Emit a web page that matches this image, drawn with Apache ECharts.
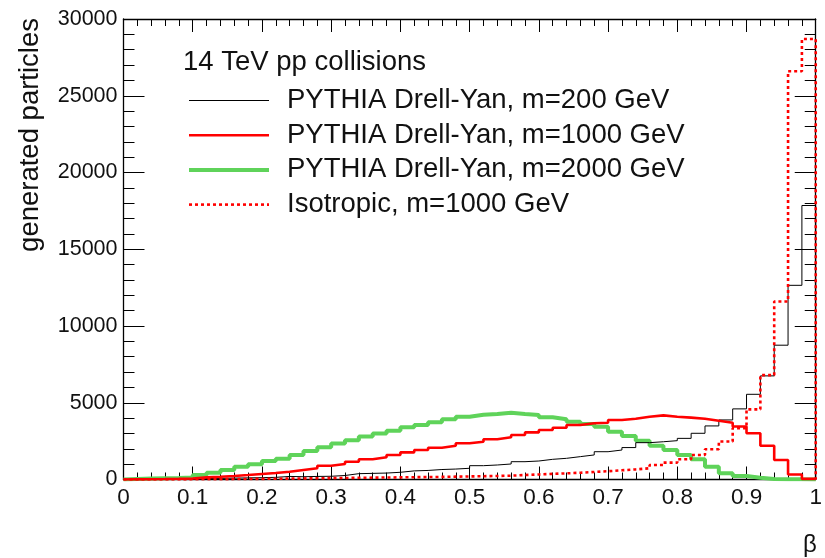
<!DOCTYPE html>
<html><head><meta charset="utf-8">
<script src="https://cdn.jsdelivr.net/npm/echarts@6/dist/echarts.min.js"></script>
<style>html,body{margin:0;padding:0;background:#fff}#c{width:825px;height:558px}</style>
</head><body><div id="c"></div>
<script>
// Histogram bins: lower edges (bin width 0.02), last upper edge = 1
const binLow = [0.00,0.02,0.04,0.06,0.08,0.10,0.12,0.14,0.16,0.18,
                0.20,0.22,0.24,0.26,0.28,0.30,0.32,0.34,0.36,0.38,
                0.40,0.42,0.44,0.46,0.48,0.50,0.52,0.54,0.56,0.58,
                0.60,0.62,0.64,0.66,0.68,0.70,0.72,0.74,0.76,0.78,
                0.80,0.82,0.84,0.86,0.88,0.90,0.92,0.94,0.96,0.98];
const binHighLast = 1.0;

const dy200 = [10,20,30,40,50,60,75,90,105,120,
               140,200,180,200,210,260,380,400,420,470,
               560,590,650,680,730,900,945,1010,1160,1205,
               1315,1380,1490,1600,1810,1920,2080,2400,2460,2530,
               2680,3010,3490,3880,4600,5550,6750,8750,12650,17850];
const dy1000 = [10,20,30,45,70,140,180,230,290,360,
                420,510,620,730,900,1010,1160,1320,1450,1600,
                1770,1920,2070,2200,2360,2460,2620,2750,2900,3070,
                3220,3370,3550,3660,3700,3880,3960,4090,4180,4090,
                4030,3960,3830,3700,3450,3010,2200,1270,330,40];
const dy2000 = [40,60,80,100,130,290,440,620,830,990,
                1200,1350,1600,1850,2100,2350,2550,2800,3000,3180,
                3400,3550,3730,3920,4090,4220,4270,4350,4270,4200,
                4050,3920,3770,3620,3440,3110,2830,2530,2200,1920,
                1600,1315,830,400,230,120,40,20,10,5];
const iso1000 = [0,2,5,8,12,18,22,28,35,40,
                 50,60,70,80,90,100,110,120,130,140,
                 150,160,170,185,200,215,230,250,290,330,
                 370,400,440,490,540,600,660,730,945,1100,
                 1320,1600,1970,2480,3350,4570,6800,11600,26600,28700];

const seriesNames = ['PYTHIA Drell-Yan, m=200 GeV','PYTHIA Drell-Yan, m=1000 GeV',
                     'PYTHIA Drell-Yan, m=2000 GeV','Isotropic, m=1000 GeV'];
const headerText = '14 TeV pp collisions';
const yTitle = 'generated particles';
const xTitle = 'β';

function histPoints(vals){
  const pts = [[binLow[0], 0]];
  for (let i = 0; i < vals.length; i++) pts.push([binLow[i], vals[i]]);
  pts.push([binHighLast, vals[vals.length-1]]);
  pts.push([binHighLast, 0]);
  return pts;
}

const FONT = 'Liberation Sans';
const BIG = 27.5;
const chart = echarts.init(document.getElementById('c'), null, {renderer:'canvas'});

function mkX(pos, labels){
  return {type:'value', min:0, max:1, interval:0.1, position:pos,
    axisLine:{show:true, onZero:false, lineStyle:{color:'#000', width:1.3}},
    axisTick:{show:true, inside:true, length:13, lineStyle:{color:'#000', width:1}},
    minorTick:{show:true, splitNumber:5, length:7, lineStyle:{color:'#000', width:1}},
    splitLine:{show:false}, minorSplitLine:{show:false},
    axisLabel:{show:labels, color:'#111', fontFamily:FONT, fontSize:22.5, margin:7,
      formatter:function(v){ return (v===0||v===1)? String(v) : v.toFixed(1); }}};
}
function mkY(pos, labels){
  return {type:'value', min:0, max:30000, interval:5000, position:pos,
    axisLine:{show:true, onZero:false, lineStyle:{color:'#000', width:1.3}},
    axisTick:{show:true, inside:true, length:21, lineStyle:{color:'#000', width:1}},
    minorTick:{show:true, splitNumber:5, length:11, lineStyle:{color:'#000', width:1}},
    splitLine:{show:false}, minorSplitLine:{show:false},
    axisLabel:{show:labels, color:'#111', fontFamily:FONT, fontSize:21.5, margin:6,
      formatter:function(v){ return String(v); }}};
}

const legendWidths = [1, 2.6, 4, 2.6];
const option = {
  animation:false,
  backgroundColor:'#fff',
  grid:{left:123.5, right:5, top:19, bottom:78.5, containLabel:false},
  xAxis:[mkX('bottom', true), mkX('top', false)],
  yAxis:[mkY('left', true), mkY('right', false)],
  title:{text:headerText, left:183, top:48.5, padding:0,
    textStyle:{fontFamily:FONT, fontSize:BIG, fontWeight:'normal', color:'#111'}},
  legend:{orient:'vertical', left:187, top:86.5, itemWidth:80, itemHeight:14, itemGap:6.7,
    padding:0, itemStyle:{opacity:0, borderWidth:0},
    data:seriesNames.map(function(n, i){ return {name:n, lineStyle:{width:legendWidths[i]}}; }),
    textStyle:{fontFamily:FONT, fontSize:BIG, color:'#111', lineHeight:28, padding:[0,0,0,13]}},
  graphic:[
    {type:'text', x:30, y:18, rotation:Math.PI/2,
     style:{text:yTitle, fontFamily:FONT, fontSize:BIG, fill:'#111', align:'right', verticalAlign:'middle'}},
    {type:'text', x:810, y:545,
     style:{text:xTitle, fontFamily:FONT, fontSize:24, fill:'#111', align:'center', verticalAlign:'middle'}}
  ],
  series:[
    {name:seriesNames[2], type:'line', step:'end', symbol:'none', data:histPoints(dy2000),
     lineStyle:{color:'#5fd35a', width:4}, itemStyle:{color:'#5fd35a'}, z:2},
    {name:seriesNames[0], type:'line', step:'end', symbol:'none', data:histPoints(dy200),
     lineStyle:{color:'#000', width:1}, itemStyle:{color:'#000'}, z:3},
    {name:seriesNames[1], type:'line', step:'end', symbol:'none', data:histPoints(dy1000),
     lineStyle:{color:'#ff0000', width:2.6}, itemStyle:{color:'#ff0000'}, z:4},
    {name:seriesNames[3], type:'line', step:'end', symbol:'none', data:histPoints(iso1000),
     lineStyle:{color:'#ff0000', width:2.6, type:[3,3]}, itemStyle:{color:'#ff0000'}, z:5}
  ]
};
chart.setOption(option);
</script></body></html>
